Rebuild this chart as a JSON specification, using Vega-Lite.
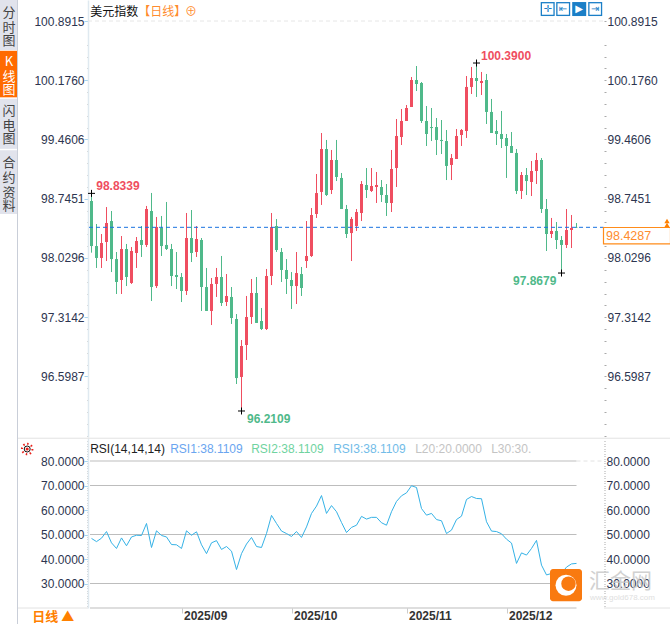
{
  "$schema": "https://vega.github.io/schema/vega-lite/v6.json",
  "padding": {"top": -1, "left": 0, "right": 0, "bottom": 0},
  "background": "white",
  "config": {"view": {"stroke": null}, "font": "Liberation Sans"},
  "datasets": {
    "tabs": [
      {"tab": "分时图", "from": 0, "to": 3.5, "active": false},
      {"tab": "K线图", "from": 3.55, "to": 6.8, "active": true},
      {"tab": "闪电图", "from": 6.9, "to": 10.4, "active": false},
      {"tab": "合约资料", "from": 10.5, "to": 14.95, "active": false}
    ],
    "tabchars": [
      {"ch": "分", "line": 0.9, "active": false}, {"ch": "时", "line": 1.95, "active": false}, {"ch": "图", "line": 2.87, "active": false},
      {"ch": "K", "line": 4.33, "active": true}, {"ch": "线", "line": 5.38, "active": true}, {"ch": "图", "line": 6.3, "active": true},
      {"ch": "闪", "line": 7.76, "active": false}, {"ch": "电", "line": 8.8, "active": false}, {"ch": "图", "line": 9.72, "active": false},
      {"ch": "合", "line": 11.4, "active": false}, {"ch": "约", "line": 12.45, "active": false}, {"ch": "资", "line": 13.5, "active": false}, {"ch": "料", "line": 14.4, "active": false}
    ],
    "candles": [
      {"i":0,"open":98.718,"high":98.810,"low":98.094,"close":98.174},
      {"i":1,"open":98.174,"high":98.440,"low":97.909,"close":98.030},
      {"i":2,"open":98.030,"high":98.319,"low":97.909,"close":98.211},
      {"i":3,"open":98.223,"high":98.645,"low":97.993,"close":98.452},
      {"i":4,"open":98.476,"high":98.597,"low":97.860,"close":98.017},
      {"i":5,"open":98.017,"high":98.102,"low":97.595,"close":97.740},
      {"i":6,"open":97.764,"high":98.295,"low":97.595,"close":98.138},
      {"i":7,"open":98.138,"high":98.199,"low":97.691,"close":97.800},
      {"i":8,"open":97.728,"high":98.162,"low":97.716,"close":98.114},
      {"i":9,"open":98.090,"high":98.283,"low":97.909,"close":98.235},
      {"i":10,"open":98.247,"high":98.416,"low":98.042,"close":98.187},
      {"i":11,"open":98.187,"high":98.658,"low":98.162,"close":98.621},
      {"i":12,"open":98.597,"high":98.815,"low":97.510,"close":97.679},
      {"i":13,"open":97.691,"high":98.525,"low":97.667,"close":98.404},
      {"i":14,"open":98.392,"high":98.537,"low":98.054,"close":98.174},
      {"i":15,"open":98.187,"high":98.706,"low":98.126,"close":98.138},
      {"i":16,"open":98.138,"high":98.199,"low":97.691,"close":97.812},
      {"i":17,"open":97.824,"high":98.102,"low":97.655,"close":97.800},
      {"i":18,"open":97.800,"high":97.848,"low":97.498,"close":97.631},
      {"i":19,"open":97.631,"high":98.573,"low":97.583,"close":98.271},
      {"i":20,"open":98.271,"high":98.609,"low":97.981,"close":98.090},
      {"i":21,"open":98.102,"high":98.416,"low":98.042,"close":98.259},
      {"i":22,"open":98.247,"high":98.271,"low":97.390,"close":97.679},
      {"i":23,"open":97.679,"high":97.909,"low":97.390,"close":97.390},
      {"i":24,"open":97.390,"high":97.788,"low":97.220,"close":97.716},
      {"i":25,"open":97.716,"high":97.909,"low":97.559,"close":97.800},
      {"i":26,"open":97.800,"high":98.054,"low":97.450,"close":97.486},
      {"i":27,"open":97.498,"high":97.836,"low":97.450,"close":97.571},
      {"i":28,"open":97.559,"high":97.679,"low":97.233,"close":97.305},
      {"i":29,"open":97.293,"high":97.353,"low":96.508,"close":96.580},
      {"i":30,"open":96.593,"high":97.039,"low":96.182,"close":96.967},
      {"i":31,"open":96.979,"high":97.571,"low":96.798,"close":97.317},
      {"i":32,"open":97.317,"high":97.776,"low":97.233,"close":97.607},
      {"i":33,"open":97.607,"high":97.800,"low":97.245,"close":97.245},
      {"i":34,"open":97.269,"high":97.426,"low":97.160,"close":97.172},
      {"i":35,"open":97.172,"high":97.897,"low":97.160,"close":97.812},
      {"i":36,"open":97.812,"high":98.573,"low":97.703,"close":98.404},
      {"i":37,"open":98.416,"high":98.500,"low":98.102,"close":98.126},
      {"i":38,"open":98.102,"high":98.150,"low":97.740,"close":97.885},
      {"i":39,"open":97.885,"high":98.017,"low":97.595,"close":97.776},
      {"i":40,"open":97.764,"high":97.860,"low":97.414,"close":97.691},
      {"i":41,"open":97.691,"high":98.102,"low":97.474,"close":97.848},
      {"i":42,"open":97.836,"high":97.921,"low":97.571,"close":97.667},
      {"i":43,"open":97.993,"high":98.476,"low":97.909,"close":98.054},
      {"i":44,"open":98.054,"high":98.633,"low":98.042,"close":98.549},
      {"i":45,"open":98.561,"high":99.044,"low":98.513,"close":98.814},
      {"i":46,"open":98.827,"high":99.539,"low":98.670,"close":99.346},
      {"i":47,"open":99.346,"high":99.455,"low":98.778,"close":98.790},
      {"i":48,"open":98.851,"high":99.334,"low":98.802,"close":99.213},
      {"i":49,"open":99.213,"high":99.455,"low":98.959,"close":99.008},
      {"i":50,"open":98.996,"high":99.056,"low":98.621,"close":98.621},
      {"i":51,"open":98.621,"high":98.670,"low":98.271,"close":98.319},
      {"i":52,"open":98.331,"high":98.525,"low":97.993,"close":98.501},
      {"i":53,"open":98.416,"high":98.621,"low":98.356,"close":98.585},
      {"i":54,"open":98.573,"high":98.959,"low":98.476,"close":98.923},
      {"i":55,"open":98.911,"high":99.116,"low":98.754,"close":98.851},
      {"i":56,"open":98.839,"high":99.116,"low":98.827,"close":98.899},
      {"i":57,"open":98.887,"high":99.068,"low":98.694,"close":98.911},
      {"i":58,"open":98.887,"high":98.971,"low":98.706,"close":98.790},
      {"i":59,"open":98.790,"high":98.923,"low":98.537,"close":98.694},
      {"i":60,"open":98.694,"high":99.334,"low":98.585,"close":99.104},
      {"i":61,"open":99.116,"high":99.708,"low":98.887,"close":99.503},
      {"i":62,"open":99.491,"high":99.829,"low":99.394,"close":99.684},
      {"i":63,"open":99.684,"high":99.877,"low":99.684,"close":99.841},
      {"i":64,"open":99.853,"high":100.215,"low":99.853,"close":100.179},
      {"i":65,"open":100.179,"high":100.348,"low":100.046,"close":100.131},
      {"i":66,"open":100.143,"high":100.155,"low":99.660,"close":99.684},
      {"i":67,"open":99.684,"high":99.865,"low":99.382,"close":99.527},
      {"i":68,"open":99.611,"high":99.841,"low":99.442,"close":99.599},
      {"i":69,"open":99.611,"high":99.720,"low":99.273,"close":99.455},
      {"i":70,"open":99.455,"high":99.696,"low":99.285,"close":99.442},
      {"i":71,"open":99.442,"high":99.575,"low":98.971,"close":99.141},
      {"i":72,"open":99.153,"high":99.285,"low":98.971,"close":99.237},
      {"i":73,"open":99.225,"high":99.587,"low":99.225,"close":99.503},
      {"i":74,"open":99.515,"high":99.587,"low":99.382,"close":99.575},
      {"i":75,"open":99.563,"high":100.227,"low":99.479,"close":100.095},
      {"i":76,"open":100.095,"high":100.336,"low":100.010,"close":100.203},
      {"i":77,"open":100.203,"high":100.384,"low":99.974,"close":100.167},
      {"i":78,"open":100.143,"high":100.276,"low":99.998,"close":100.167},
      {"i":79,"open":100.179,"high":100.252,"low":99.648,"close":99.793},
      {"i":80,"open":99.793,"high":99.950,"low":99.539,"close":99.539},
      {"i":81,"open":99.563,"high":99.696,"low":99.394,"close":99.527},
      {"i":82,"open":99.527,"high":99.805,"low":99.358,"close":99.467},
      {"i":83,"open":99.479,"high":99.527,"low":98.996,"close":99.382},
      {"i":84,"open":99.382,"high":99.551,"low":99.298,"close":99.298},
      {"i":85,"open":99.298,"high":99.346,"low":98.802,"close":98.839},
      {"i":86,"open":98.839,"high":99.068,"low":98.742,"close":99.032},
      {"i":87,"open":99.032,"high":99.116,"low":98.790,"close":98.959},
      {"i":88,"open":98.947,"high":99.201,"low":98.778,"close":99.080},
      {"i":89,"open":99.080,"high":99.298,"low":98.923,"close":99.213},
      {"i":90,"open":99.213,"high":99.237,"low":98.573,"close":98.621},
      {"i":91,"open":98.621,"high":98.742,"low":98.114,"close":98.319},
      {"i":92,"open":98.319,"high":98.513,"low":98.271,"close":98.356},
      {"i":93,"open":98.356,"high":98.464,"low":98.138,"close":98.247},
      {"i":94,"open":98.247,"high":98.295,"low":97.848,"close":98.187},
      {"i":95,"open":98.187,"high":98.621,"low":98.150,"close":98.368},
      {"i":96,"open":98.368,"high":98.549,"low":98.150,"close":98.392},
      {"i":97,"open":98.404,"high":98.452,"low":98.392,"close":98.400}
    ],
    "rsi": [
      {"i":0,"rsi":48.4},{"i":1,"rsi":47.1},{"i":2,"rsi":48.5},{"i":3,"rsi":51.2},{"i":4,"rsi":46.6},{"i":5,"rsi":44.3},{"i":6,"rsi":48.6},{"i":7,"rsi":45.4},{"i":8,"rsi":49.0},{"i":9,"rsi":49.7},
      {"i":10,"rsi":49.6},{"i":11,"rsi":54.5},{"i":12,"rsi":44.7},{"i":13,"rsi":51.5},{"i":14,"rsi":49.6},{"i":15,"rsi":49.0},{"i":16,"rsi":45.9},{"i":17,"rsi":45.8},{"i":18,"rsi":44.3},{"i":19,"rsi":51.5},
      {"i":20,"rsi":49.7},{"i":21,"rsi":51.1},{"i":22,"rsi":45.8},{"i":23,"rsi":42.2},{"i":24,"rsi":46.6},{"i":25,"rsi":47.5},{"i":26,"rsi":43.9},{"i":27,"rsi":45.1},{"i":28,"rsi":43.2},{"i":29,"rsi":35.7},
      {"i":30,"rsi":42.2},{"i":31,"rsi":46.1},{"i":32,"rsi":48.8},{"i":33,"rsi":45.1},{"i":34,"rsi":44.7},{"i":35,"rsi":50.4},{"i":36,"rsi":57.8},{"i":37,"rsi":54.5},{"i":38,"rsi":51.4},{"i":39,"rsi":50.4},
      {"i":40,"rsi":49.2},{"i":41,"rsi":51.2},{"i":42,"rsi":48.8},{"i":43,"rsi":53.1},{"i":44,"rsi":58.6},{"i":45,"rsi":61.6},{"i":46,"rsi":65.9},{"i":47,"rsi":58.6},{"i":48,"rsi":61.8},{"i":49,"rsi":59.3},
      {"i":50,"rsi":54.9},{"i":51,"rsi":50.8},{"i":52,"rsi":52.9},{"i":53,"rsi":53.8},{"i":54,"rsi":57.4},{"i":55,"rsi":56.3},{"i":56,"rsi":57.0},{"i":57,"rsi":57.0},{"i":58,"rsi":54.8},{"i":59,"rsi":53.8},
      {"i":60,"rsi":59.3},{"i":61,"rsi":63.5},{"i":62,"rsi":65.8},{"i":63,"rsi":67.0},{"i":64,"rsi":69.9},{"i":65,"rsi":69.2},{"i":66,"rsi":60.6},{"i":67,"rsi":57.9},{"i":68,"rsi":58.6},{"i":69,"rsi":56.1},
      {"i":70,"rsi":55.6},{"i":71,"rsi":50.4},{"i":72,"rsi":51.8},{"i":73,"rsi":56.1},{"i":74,"rsi":57.5},{"i":75,"rsi":64.3},{"i":76,"rsi":65.5},{"i":77,"rsi":64.7},{"i":78,"rsi":64.6},{"i":79,"rsi":55.2},
      {"i":80,"rsi":51.4},{"i":81,"rsi":51.2},{"i":82,"rsi":50.3},{"i":83,"rsi":48.1},{"i":84,"rsi":46.5},{"i":85,"rsi":38.2},{"i":86,"rsi":42.5},{"i":87,"rsi":41.6},{"i":88,"rsi":44.3},{"i":89,"rsi":47.6},
      {"i":90,"rsi":37.5},{"i":91,"rsi":33.5},{"i":92,"rsi":34.1},{"i":93,"rsi":33.4},{"i":94,"rsi":34.1},{"i":95,"rsi":36.7},{"i":96,"rsi":38.0},{"i":97,"rsi":38.2}
    ]
  },
  "hconcat": [
    {
      "width": 18,
      "height": 624,
      "layer": [
        {
          "data": {"name": "tabs"},
          "mark": "rect",
          "encoding": {
            "y": {"field": "from", "type": "quantitative", "scale": {"domain": [0, 43.6], "reverse": true, "nice": false, "zero": false}, "axis": null},
            "y2": {"field": "to"},
            "color": {"condition": {"test": "datum.active", "value": "#ff6a00"}, "value": "#e1e3ec"}
          }
        },
        {
          "data": {"name": "tabchars"},
          "mark": {"type": "text", "font": "Noto Sans CJK SC", "fontSize": 13},
          "encoding": {
            "y": {"field": "line", "type": "quantitative", "scale": {"domain": [0, 43.6], "reverse": true, "nice": false, "zero": false}, "axis": null},
            "text": {"field": "ch"},
            "color": {"condition": {"test": "datum.active", "value": "#ffffff"}, "value": "#444444"}
          }
        },
        {
          "data": {"values": [{"edge": 17.5}]},
          "mark": {"type": "rule", "color": "#c9ced8"},
          "encoding": {
            "x": {"field": "edge", "type": "quantitative", "scale": {"domain": [0, 18], "nice": false}, "axis": null}
          }
        }
      ]
    },
    {
      "spacing": 1,
      "bounds": "flush",
      "vconcat": [
        {
          "width": 516,
          "height": 437,
          "encoding": {
            "x": {"field": "i", "type": "quantitative", "scale": {"domain": [-0.7, 102.5], "nice": false, "zero": false, "padding": 0}, "axis": null}
          },
          "resolve": {"axis": {"y": "independent"}},
          "layer": [
            {
              "data": {"name": "candles"},
              "mark": {"type": "rule", "strokeWidth": 1},
              "encoding": {
                "y": {
                  "field": "low", "type": "quantitative", "title": null,
                  "scale": {"domain": [95.868, 101.1451], "nice": false, "zero": false},
                  "axis": {
                    "orient": "left",
                    "values": [95.8832,96.0263,96.1694,96.3125,96.4556,96.5987,96.7418,96.8849,97.028,97.1711,97.3142,97.4573,97.6004,97.7435,97.8866,98.0296,98.1727,98.3158,98.4589,98.602,98.7451,98.8882,99.0313,99.1744,99.3175,99.4606,99.6037,99.7468,99.8899,100.033,100.176,100.3191,100.4622,100.6053,100.8915],
                    "labelExpr": "indexof([96.5987,97.3142,98.0296,98.7451,99.4606,100.176,100.8915],datum.value)>=0 ? format(datum.value,'.4f') : ''",
                    "labelOverlap": false, "labelFlush": false, "grid": false,
                    "labelFontSize": 12, "labelColor": "#2d3550", "labelPadding": 0,
                    "domainColor": "#dfe9f0", "domainWidth": 1.5,
                    "tickSize": {"condition": {"test": "indexof([96.5987,97.3142,98.0296,98.7451,99.4606,100.176,100.8915],datum.value)>=0", "value": 4}, "value": 1},
                    "tickColor": {"condition": {"test": "indexof([96.5987,97.3142,98.0296,98.7451,99.4606,100.176,100.8915],datum.value)>=0", "value": "#a8d4ee"}, "value": "#aaaaaa"}
                  }
                },
                "y2": {"field": "high"},
                "color": {"condition": {"test": "datum.close>=datum.open", "value": "#ef4e60"}, "value": "#4fb98a"}
              }
            },
            {
              "data": {"name": "candles"},
              "mark": {"type": "bar", "size": 3},
              "encoding": {
                "y": {
                  "field": "open", "type": "quantitative", "title": null,
                  "scale": {"domain": [95.868, 101.1451], "nice": false, "zero": false},
                  "axis": {
                    "orient": "right",
                    "values": [95.8832,96.0263,96.1694,96.3125,96.4556,96.5987,96.7418,96.8849,97.028,97.1711,97.3142,97.4573,97.6004,97.7435,97.8866,98.0296,98.1727,98.3158,98.4589,98.602,98.7451,98.8882,99.0313,99.1744,99.3175,99.4606,99.6037,99.7468,99.8899,100.033,100.176,100.3191,100.4622,100.6053,100.8915],
                    "labelExpr": "indexof([96.5987,97.3142,98.0296,98.7451,99.4606,100.176,100.8915],datum.value)>=0 ? format(datum.value,'.4f') : ''",
                    "labelOverlap": false, "labelFlush": false, "grid": false,
                    "labelFontSize": 12, "labelColor": "#2d3550", "labelPadding": 1,
                    "domain": false, "tickSize": 2, "tickColor": "#aaaaaa"
                  }
                },
                "y2": {"field": "close"},
                "color": {"condition": {"test": "datum.close>=datum.open", "value": "#ef4e60"}, "value": "#4fb98a"}
              }
            },
            {
              "data": {"values": [{"i": -0.7, "i2": 102.5, "p": 100.8915}]},
              "mark": {"type": "rule", "color": "#e6e6e6", "strokeDash": [4, 3]},
              "encoding": {
                "x2": {"field": "i2"},
                "y": {"field": "p", "type": "quantitative", "axis": null}
              }
            },
            {
              "data": {"values": [{"i": -0.5, "i2": 102.4, "p": 98.4, "label": "98.4287"}]},
              "mark": {"type": "rule", "color": "#1a73e0", "strokeDash": [4, 3]},
              "encoding": {
                "x2": {"field": "i2"},
                "y": {"field": "p", "type": "quantitative", "axis": null}
              }
            },
            {
              "data": {"values": [{"i": 102.4, "i2": 115.8, "p": 98.398, "p2": 98.199}]},
              "mark": {"type": "rect", "fill": "#ffffff", "stroke": "#ff8c1a", "strokeWidth": 1.2},
              "encoding": {
                "x2": {"field": "i2"},
                "y": {"field": "p", "type": "quantitative", "axis": null},
                "y2": {"field": "p2"}
              }
            },
            {
              "data": {"values": [{"i": 102.9, "p": 98.295, "label": "98.4287"}]},
              "mark": {"type": "text", "align": "left", "baseline": "middle", "fontSize": 12.5, "color": "#ff8c2e"},
              "encoding": {
                "y": {"field": "p", "type": "quantitative", "axis": null},
                "text": {"field": "label"}
              }
            },
            {
              "data": {"values": [{"i": 115.1, "p": 98.476}, {"i": 115.1, "p": 98.428}]},
              "mark": {"type": "point", "shape": "triangle-up", "size": 28, "filled": true, "opacity": 1, "color": "#ff8000"},
              "encoding": {
                "y": {"field": "p", "type": "quantitative", "axis": null}
              }
            },
            {
              "data": {"values": [{"i": 0, "p": 98.81}, {"i": 30, "p": 96.182}, {"i": 77, "p": 100.384}, {"i": 94, "p": 97.848}]},
              "mark": {"type": "point", "shape": "M-1,0H1M0,-1V1", "size": 49, "stroke": "#000000", "strokeWidth": 1, "opacity": 1},
              "encoding": {
                "y": {"field": "p", "type": "quantitative", "axis": null}
              }
            },
            {
              "data": {"values": [
                {"i": 0.95, "p": 98.899, "label": "98.8339", "dir": "up"},
                {"i": 77.9, "p": 100.469, "label": "100.3900", "dir": "up"},
                {"i": 84.3, "p": 97.752, "label": "97.8679", "dir": "down"},
                {"i": 31.1, "p": 96.085, "label": "96.2109", "dir": "down"}
              ]},
              "mark": {"type": "text", "align": "left", "baseline": "middle", "fontSize": 12, "fontWeight": "bold"},
              "encoding": {
                "y": {"field": "p", "type": "quantitative", "axis": null},
                "text": {"field": "label"},
                "color": {"condition": {"test": "datum.dir=='up'", "value": "#ef4e60"}, "value": "#4fb98a"}
              }
            },
            {
              "data": {"values": [
                {"i": -0.26, "p": 101.0, "label": "美元指数", "part": "name"},
                {"i": 9.34, "p": 101.0, "label": "【日线】", "part": "tag"},
                {"i": 18.7, "p": 101.0, "label": "⊕", "part": "tag"}
              ]},
              "mark": {"type": "text", "align": "left", "baseline": "middle", "fontSize": 12, "font": "Noto Sans CJK SC"},
              "encoding": {
                "y": {"field": "p", "type": "quantitative", "axis": null},
                "text": {"field": "label"},
                "color": {"condition": {"test": "datum.part=='name'", "value": "#111111"}, "value": "#ff8c2e"}
              }
            },
            {
              "data": {"values": [
                {"i": 91.24, "p": 101.036, "on": false, "glyph": "✛"},
                {"i": 94.34, "p": 101.036, "on": false, "glyph": "⇤"},
                {"i": 97.54, "p": 101.036, "on": true, "glyph": "▶"},
                {"i": 100.74, "p": 101.036, "on": false, "glyph": "⇥"}
              ]},
              "layer": [
                {
                  "mark": {"type": "point", "shape": "square", "size": 196, "filled": true, "opacity": 1, "color": "#1b7fc7"},
                  "encoding": {
                    "y": {"field": "p", "type": "quantitative", "axis": null}
                  }
                },
                {
                  "mark": {"type": "point", "shape": "square", "size": 130, "filled": true, "opacity": 1},
                  "encoding": {
                    "y": {"field": "p", "type": "quantitative", "axis": null},
                    "color": {"condition": {"test": "datum.on", "value": "#1b7fc7"}, "value": "#ffffff"}
                  }
                },
                {
                  "mark": {"type": "text", "fontSize": 10, "font": "DejaVu Sans", "baseline": "middle"},
                  "encoding": {
                    "y": {"field": "p", "type": "quantitative", "axis": null},
                    "text": {"field": "glyph"},
                    "color": {"condition": {"test": "datum.on", "value": "#ffffff"}, "value": "#1b7fc7"}
                  }
                }
              ]
            }
          ]
        },
        {
          "width": 516,
          "height": 170,
          "encoding": {
            "x": {
              "field": "i", "type": "quantitative", "title": null,
              "scale": {"domain": [-0.7, 102.5], "nice": false, "zero": false},
              "axis": null
            }
          },
          "resolve": {"axis": {"y": "independent", "x": "independent"}},
          "layer": [
            {
              "data": {"values": [
                {"i": -0.3, "i2": 97, "level": 70},
                {"i": -0.3, "i2": 97, "level": 50},
                {"i": -0.3, "i2": 97, "level": 30},
                {"i": -0.3, "i2": 97, "level": 80},
                {"i": -0.3, "i2": 97, "level": 20}
              ]},
              "mark": {"type": "rule", "color": "#bdbdbd", "strokeWidth": 1},
              "encoding": {
                "x": {
                  "field": "i", "type": "quantitative", "title": null,
                  "scale": {"domain": [-0.7, 102.5], "nice": false, "zero": false},
                  "axis": {
                    "orient": "bottom",
                    "values": [18, 40, 63, 83],
                    "labelExpr": "{'18':'2025/09','40':'2025/10','63':'2025/11','83':'2025/12'}[datum.value]",
                    "labelAlign": "left", "labelFontSize": 12, "labelFontWeight": "bold", "labelColor": "#333333",
                    "labelPadding": -3, "labelOffset": 2, "labelFlush": false, "labelOverlap": false,
                    "domain": false, "grid": false, "tickSize": 5, "tickColor": "#cccccc"
                  }
                },
                "x2": {"field": "i2"},
                "y": {
                  "field": "level", "type": "quantitative", "title": null,
                  "scale": {"domain": [20, 89.39], "nice": false, "zero": false},
                  "axis": {
                    "orient": "left",
                    "values": [21,22,23,24,25,26,27,28,29,30,31,32,33,34,35,36,37,38,39,40,41,42,43,44,45,46,47,48,49,50,51,52,53,54,55,56,57,58,59,60,61,62,63,64,65,66,67,68,69,70,71,72,73,74,75,76,77,78,79,80,81,82,83,84,85,86,87,88],
                    "labelExpr": "datum.value>=30 && datum.value<=80 && datum.value%10==0 ? format(datum.value,'.4f') : ''",
                    "labelOverlap": false, "labelFlush": false, "grid": false,
                    "labelFontSize": 12, "labelColor": "#2d3550", "labelPadding": 0,
                    "domainColor": "#dfe9f0", "domainWidth": 1.5,
                    "tickSize": {"condition": {"test": "datum.value>=30 && datum.value<=80 && datum.value%10==0", "value": 4}, "value": 1},
                    "tickColor": {"condition": {"test": "datum.value>=30 && datum.value<=80 && datum.value%10==0", "value": "#a8d4ee"}, "value": "#aaaaaa"}
                  }
                }
              }
            },
            {
              "data": {"name": "rsi"},
              "mark": {"type": "line", "color": "#35b2e6", "strokeWidth": 1, "interpolate": "linear"},
              "encoding": {
                "y": {
                  "field": "rsi", "type": "quantitative", "title": null,
                  "scale": {"domain": [20, 89.39], "nice": false, "zero": false},
                  "axis": {
                    "orient": "right",
                    "values": [21,22,23,24,25,26,27,28,29,30,31,32,33,34,35,36,37,38,39,40,41,42,43,44,45,46,47,48,49,50,51,52,53,54,55,56,57,58,59,60,61,62,63,64,65,66,67,68,69,70,71,72,73,74,75,76,77,78,79,80,81,82,83,84,85,86,87,88],
                    "labelExpr": "datum.value>=30 && datum.value<=80 && datum.value%10==0 ? format(datum.value,'.4f') : ''",
                    "labelOverlap": false, "labelFlush": false, "grid": false,
                    "labelFontSize": 12, "labelColor": "#2d3550", "labelPadding": 1,
                    "domain": false, "tickSize": 1, "tickColor": "#aaaaaa"
                  }
                }
              }
            },
            {
              "data": {"values": [
                {"i": 97, "i2": 102.5, "level": 80, "kind": "dash"},
                {"i": -14.7, "i2": 115.9, "level": 89.3, "kind": "frame"},
                {"i": -14.7, "i2": -0.7, "level": 20, "kind": "frame"},
                {"i": 102.5, "i2": 115.9, "level": 20, "kind": "frame"}
              ]},
              "mark": {"type": "rule", "color": "#e2e2e2", "strokeWidth": 1},
              "encoding": {
                "x2": {"field": "i2"},
                "y": {"field": "level", "type": "quantitative", "axis": null},
                "strokeDash": {"condition": {"test": "datum.kind=='dash'", "value": [4, 3]}, "value": [1, 0]}
              }
            },
            {
              "data": {"values": [
                {"i": -0.26, "level": 84.9, "label": "RSI(14,14,14)", "kind": "name"},
                {"i": 15.74, "level": 84.9, "label": "RSI1:38.1109", "kind": "rsi1"},
                {"i": 31.94, "level": 84.9, "label": "RSI2:38.1109", "kind": "rsi2"},
                {"i": 48.34, "level": 84.9, "label": "RSI3:38.1109", "kind": "rsi3"},
                {"i": 64.74, "level": 84.9, "label": "L20:20.0000", "kind": "limit"},
                {"i": 79.94, "level": 84.9, "label": "L30:30.", "kind": "limit"}
              ]},
              "mark": {"type": "text", "align": "left", "baseline": "middle", "fontSize": 12},
              "encoding": {
                "y": {"field": "level", "type": "quantitative", "axis": null},
                "text": {"field": "label"},
                "color": {
                  "field": "kind", "type": "nominal", "legend": null,
                  "scale": {"domain": ["name", "rsi1", "rsi2", "rsi3", "limit"], "range": ["#222222", "#6aa5f0", "#6fd3a0", "#72bce8", "#c4c4c4"]}
                }
              }
            },
            {
              "data": {"values": [{"i": -11.86, "level": 16.35, "label": "日线 ▲"}]},
              "mark": {"type": "text", "align": "left", "baseline": "middle", "fontSize": 13, "fontWeight": "bold", "font": "Noto Sans CJK SC", "color": "#ff8000"},
              "encoding": {
                "y": {"field": "level", "type": "quantitative", "axis": null},
                "text": {"field": "label"}
              }
            },
            {
              "data": {"values": [{"i": -12.86, "level": 84.9}]},
              "layer": [
                {
                  "mark": {"type": "point", "shape": "circle", "size": 110, "filled": false, "opacity": 1, "stroke": "#e8201a", "strokeWidth": 2, "strokeDash": [1.5, 2.5]},
                  "encoding": {"y": {"field": "level", "type": "quantitative", "axis": null}}
                },
                {
                  "mark": {"type": "point", "shape": "circle", "size": 36, "filled": false, "opacity": 1, "stroke": "#111111", "strokeWidth": 1},
                  "encoding": {"y": {"field": "level", "type": "quantitative", "axis": null}}
                },
                {
                  "mark": {"type": "point", "shape": "circle", "size": 10, "filled": true, "opacity": 1, "color": "#e8201a"},
                  "encoding": {"y": {"field": "level", "type": "quantitative", "axis": null}}
                }
              ]
            },
            {
              "data": {"values": [{"i": 99.5, "level": 30.6, "label": "汇金网"}]},
              "mark": {"type": "text", "align": "left", "baseline": "middle", "font": "Noto Sans CJK SC", "fontSize": 21, "opacity": 0.8, "color": "#c6c6c6"},
              "encoding": {
                "y": {"field": "level", "type": "quantitative", "axis": null},
                "text": {"field": "label"}
              }
            },
            {
              "data": {"values": [{"i": 99.7, "level": 23.9, "label": "www.gold678.com"}]},
              "mark": {"type": "text", "align": "left", "baseline": "middle", "fontSize": 8, "opacity": 0.8, "color": "#d8d8d8"},
              "encoding": {
                "y": {"field": "level", "type": "quantitative", "axis": null},
                "text": {"field": "label"}
              }
            },
            {
              "data": {"values": [{"i": 91.7, "i2": 98.1, "level": 35.9, "level2": 22.8}]},
              "mark": {"type": "rect", "fill": "#f97a10", "cornerRadius": 3},
              "encoding": {
                "x2": {"field": "i2"},
                "y": {"field": "level", "type": "quantitative", "axis": null},
                "y2": {"field": "level2"}
              }
            },
            {
              "data": {"values": [{"i": 94.9, "level": 29.3}]},
              "mark": {"type": "point", "shape": "circle", "size": 440, "filled": true, "opacity": 1, "color": "#ffffff"},
              "encoding": {"y": {"field": "level", "type": "quantitative", "axis": null}}
            },
            {
              "data": {"values": [{"i": 95.4, "level": 29.9}]},
              "mark": {"type": "point", "shape": "circle", "size": 210, "filled": true, "opacity": 1, "color": "#f97a10"},
              "encoding": {"y": {"field": "level", "type": "quantitative", "axis": null}}
            }
          ]
        }
      ]
    }
  ],
  "spacing": 70,
  "bounds": "flush"
}
